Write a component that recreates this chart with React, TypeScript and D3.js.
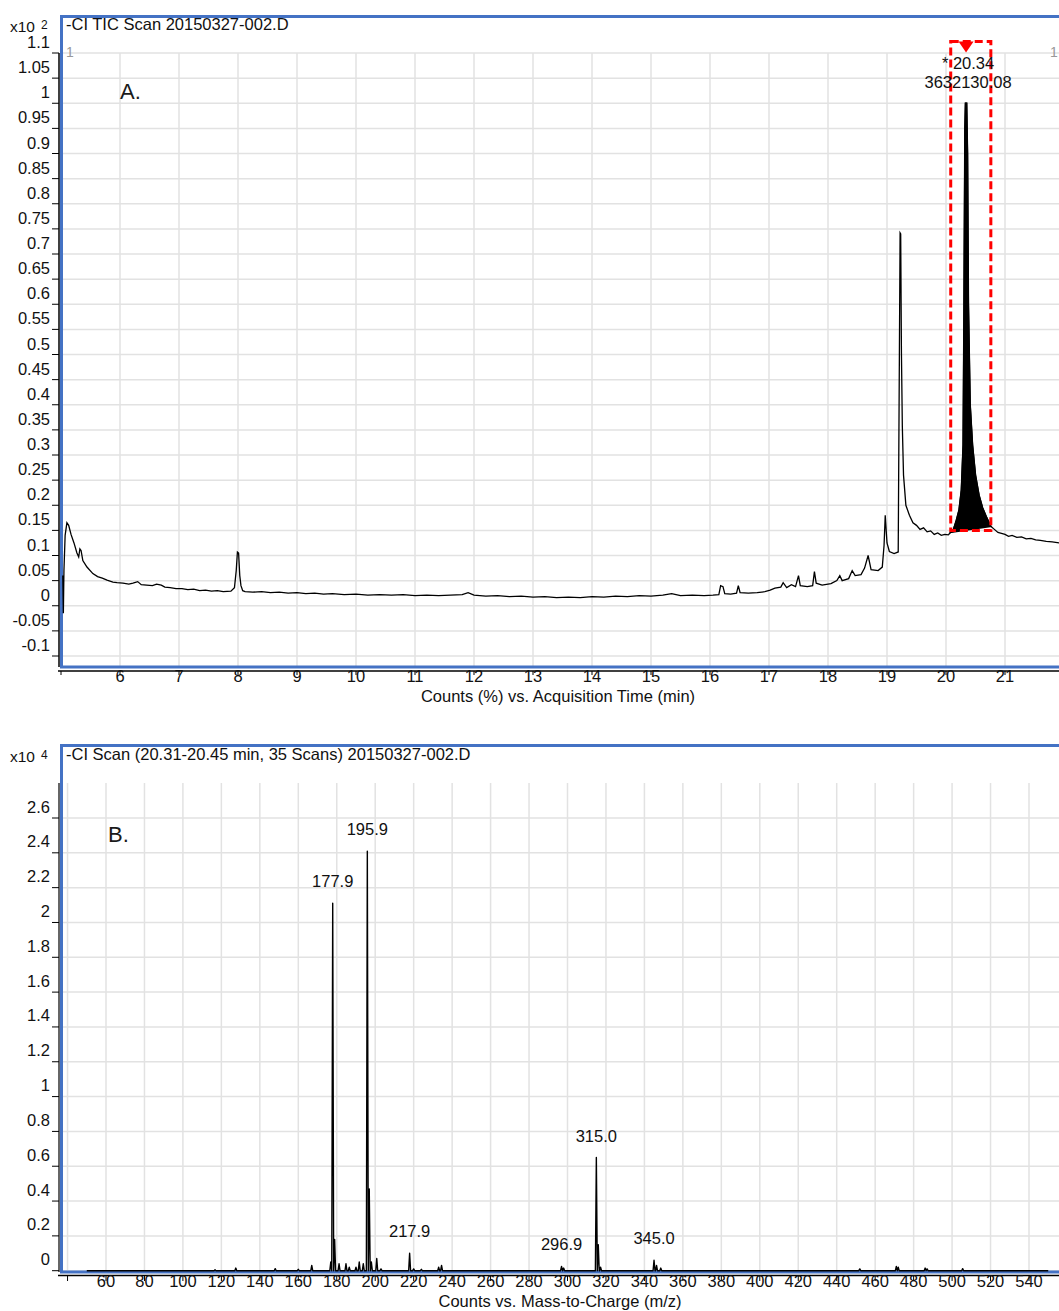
import * as React from 'react'
import * as d3 from 'd3'

// ---- panel A: TIC chromatogram, [time (min), counts (x10^2 %)]
const ticTrace: [number, number][] = [
  [5.03, 0.06], [5.04, -0.015], [5.05, 0.07], [5.07, 0.14], [5.1, 0.165], [5.13, 0.16], [5.17, 0.142],
  [5.22, 0.125], [5.27, 0.105], [5.3, 0.097], [5.32, 0.113], [5.34, 0.11], [5.37, 0.09], [5.44, 0.077],
  [5.54, 0.064], [5.62, 0.058], [5.7, 0.055], [5.78, 0.051], [5.88, 0.047], [5.95, 0.046], [6.05, 0.045],
  [6.15, 0.043], [6.22, 0.045], [6.3, 0.048], [6.36, 0.042], [6.45, 0.041], [6.55, 0.04], [6.62, 0.043],
  [6.7, 0.041], [6.76, 0.037], [6.85, 0.036], [6.95, 0.034], [7.05, 0.034], [7.15, 0.032], [7.25, 0.033],
  [7.35, 0.03], [7.45, 0.031], [7.55, 0.029], [7.65, 0.03], [7.75, 0.028], [7.88, 0.029], [7.94, 0.036],
  [7.97, 0.07], [7.99, 0.107], [8.01, 0.105], [8.03, 0.06], [8.05, 0.04], [8.08, 0.03], [8.12, 0.028], [8.25, 0.027],
  [8.4, 0.028], [8.55, 0.026], [8.7, 0.027], [8.85, 0.025], [9.0, 0.026], [9.15, 0.024], [9.3, 0.025],
  [9.45, 0.023], [9.6, 0.024], [9.8, 0.022], [10.0, 0.023], [10.2, 0.021], [10.4, 0.022], [10.6, 0.021],
  [10.8, 0.022], [11.0, 0.02], [11.2, 0.021], [11.4, 0.02], [11.6, 0.021], [11.8, 0.022], [11.9, 0.026],
  [12.0, 0.021], [12.2, 0.019], [12.4, 0.02], [12.6, 0.018], [12.8, 0.019], [13.0, 0.017], [13.2, 0.018],
  [13.4, 0.016], [13.6, 0.017], [13.8, 0.016], [14.0, 0.018], [14.2, 0.017], [14.4, 0.019], [14.6, 0.018],
  [14.8, 0.02], [15.0, 0.019], [15.2, 0.021], [15.35, 0.024], [15.5, 0.02], [15.7, 0.021], [15.9, 0.02],
  [16.05, 0.021], [16.15, 0.022], [16.18, 0.04], [16.22, 0.038], [16.25, 0.024], [16.35, 0.023], [16.45, 0.025],
  [16.48, 0.04], [16.51, 0.026], [16.65, 0.025], [16.8, 0.026], [16.93, 0.028], [17.02, 0.031], [17.1, 0.035],
  [17.2, 0.037], [17.24, 0.046], [17.3, 0.036], [17.38, 0.042], [17.45, 0.038], [17.5, 0.06], [17.53, 0.04],
  [17.65, 0.038], [17.74, 0.04], [17.77, 0.068], [17.8, 0.045], [17.9, 0.041], [18.05, 0.044], [18.15, 0.05],
  [18.2, 0.06], [18.24, 0.05], [18.35, 0.054], [18.41, 0.07], [18.46, 0.06], [18.56, 0.062], [18.62, 0.075],
  [18.68, 0.1], [18.73, 0.072], [18.85, 0.07], [18.92, 0.077], [18.95, 0.12], [18.97, 0.18], [19.0, 0.125],
  [19.04, 0.108], [19.12, 0.104], [19.19, 0.107], [19.21, 0.5], [19.222, 0.742], [19.232, 0.74], [19.245, 0.5],
  [19.26, 0.356], [19.28, 0.26], [19.32, 0.2], [19.38, 0.18], [19.44, 0.165], [19.5, 0.16], [19.56, 0.152],
  [19.62, 0.155], [19.68, 0.147], [19.74, 0.149], [19.8, 0.142], [19.86, 0.145], [19.92, 0.14], [19.98, 0.142],
  [20.04, 0.141], [20.08, 0.146], [20.12, 0.15], [20.17, 0.168], [20.22, 0.19], [20.26, 0.23], [20.29, 0.32],
  [20.305, 0.6], [20.32, 0.95], [20.33, 1.0], [20.35, 1.0], [20.365, 0.9], [20.38, 0.6], [20.41, 0.4],
  [20.45, 0.32], [20.5, 0.26], [20.56, 0.22], [20.62, 0.195], [20.68, 0.178], [20.72, 0.168], [20.76, 0.158],
  [20.82, 0.152], [20.88, 0.146], [20.94, 0.144], [21.0, 0.142], [21.06, 0.138], [21.12, 0.14], [21.2, 0.136],
  [21.28, 0.137], [21.36, 0.133], [21.44, 0.134], [21.52, 0.131], [21.6, 0.13], [21.7, 0.128], [21.8, 0.127],
  [21.92, 0.125],
]
const peakWindow = [20.08, 20.76]
const peakTime = 20.34
const peakArea = '3632130.08'
const timeTicks = [5, 6, 7, 8, 9, 10, 11, 12, 13, 14, 15, 16, 17, 18, 19, 20, 21]
const countTicksA = [-0.1, -0.05, 0, 0.05, 0.1, 0.15, 0.2, 0.25, 0.3, 0.35, 0.4, 0.45, 0.5, 0.55, 0.6,
  0.65, 0.7, 0.75, 0.8, 0.85, 0.9, 0.95, 1, 1.05, 1.1]

// ---- panel B: mass spectrum, [m/z, counts (x10^4)]
const msPeaks: [number, number][] = [
  [116.7, 0.005], [127.5, 0.015], [148, 0.012], [160, 0.008], [167, 0.03], [176.9, 0.05], [177.9, 2.11],
  [178.9, 0.18], [181.2, 0.04], [184.8, 0.04], [186.5, 0.02], [190, 0.02], [191.7, 0.05], [193.8, 0.04],
  [195.9, 2.41], [196.9, 0.47], [198, 0.05], [200.8, 0.07], [203, 0.01], [217.9, 0.1], [220, 0.01],
  [224, 0.008], [233, 0.02], [234.5, 0.03], [296.9, 0.025], [298, 0.015], [315.0, 0.65], [316.0, 0.15],
  [317.2, 0.02], [345.0, 0.06], [346.3, 0.03], [348.5, 0.015], [452, 0.01], [471, 0.025], [472, 0.02],
  [486, 0.015], [487, 0.01], [505.5, 0.012],
]
const msRange = [50, 550]
const msLabels = [177.9, 195.9, 217.9, 296.9, 315.0, 345.0]
const mzTicks = [40, 60, 80, 100, 120, 140, 160, 180, 200, 220, 240, 260, 280, 300, 320, 340, 360, 380,
  400, 420, 440, 460, 480, 500, 520, 540]
const countTicksB = [0, 0.2, 0.4, 0.6, 0.8, 1, 1.2, 1.4, 1.6, 1.8, 2, 2.2, 2.4, 2.6]

const FONT = '"Liberation Sans", Arial, Helvetica, sans-serif'
const BLUE = '#4472c4'
const GRID = '#e2e2e2'
const INK = '#111'
const FS = 16.5

export default function App() {
  // A scales
  const xA = d3.scaleLinear().domain([5, 21]).range([61, 1005])
  const yA = d3.scaleLinear().domain([-0.1, 1.1]).range([656, 53])
  const ticLine = d3.line<[number, number]>().x(d => xA(d[0])).y(d => yA(d[1]))
  const inWindow = ticTrace.filter(d => d[0] >= peakWindow[0] && d[0] <= peakWindow[1])
  const fillPath = ticLine(inWindow) + 'Z'
  const px = xA(peakTime)

  // B scales
  const xB = d3.scaleLinear().domain([60, 540]).range([106, 1029])
  const yB = d3.scaleLinear().domain([0, 2.6]).range([1270.7, 818])
  const profile: [number, number][] = [[msRange[0], 0]]
  msPeaks.forEach(([mz, v]) => {
    profile.push([mz - 0.5, 0], [mz, v], [mz + 0.5, 0])
  })
  profile.push([msRange[1], 0])
  const msLine = d3.line<[number, number]>().x(d => xB(d[0])).y(d => yB(d[1]))

  const fmt2 = (v: number) => String(+v.toFixed(2))

  return (
    <svg width={1059} height={1311} style={{ position: 'absolute', left: 0, top: 0 }}
      fontFamily={FONT} fill={INK}>
      <rect width={1059} height={1311} fill="#fff" />

      {/* ---------- panel A ---------- */}
      <g>
        {timeTicks.map(t => (
          <line key={'gx' + t} x1={xA(t)} x2={xA(t)} y1={53} y2={667} stroke={GRID} strokeWidth={1.5} />
        ))}
        {countTicksA.map(v => (
          <line key={'gy' + v} x1={61} x2={1059} y1={yA(v)} y2={yA(v)} stroke={GRID} strokeWidth={1.5} />
        ))}
        <path d="M1070,16.5H61.5V667H1070" fill="none" stroke={BLUE} strokeWidth={3} />
        <line x1={59} x2={59} y1={53} y2={667} stroke="#000" strokeWidth={1.5} />
        <line x1={58} x2={1059} y1={671} y2={671} stroke="#000" strokeWidth={1.5} />
        {countTicksA.map(v => (
          <g key={'ty' + v}>
            <line x1={52} x2={59} y1={yA(v)} y2={yA(v)} stroke="#000" strokeWidth={1} />
            <text x={50} y={yA(v) - 5} fontSize={FS} textAnchor="end">{fmt2(v)}</text>
          </g>
        ))}
        {timeTicks.map(t => (
          <g key={'tx' + t}>
            <line x1={xA(t)} x2={xA(t)} y1={671} y2={675} stroke="#000" strokeWidth={1} />
            {t > 5 && <text x={xA(t)} y={682} fontSize={FS} textAnchor="middle">{t}</text>}
          </g>
        ))}
        <text x={10} y={32} fontSize={15.5}>x10</text>
        <text x={41} y={28.5} fontSize={12}>2</text>
        <text x={66} y={29.5} fontSize={FS}>-CI TIC Scan 20150327-002.D</text>
        <text x={66} y={57} fontSize={14} fill="#999">1</text>
        <text x={1050} y={57} fontSize={14} fill="#999">1</text>
        <text x={120} y={99} fontSize={22} fill="#1a1a1a">A.</text>
        <text x={558} y={702} fontSize={FS} textAnchor="middle">Counts (%) vs. Acquisition Time (min)</text>

        <path d={fillPath} fill="#000" stroke="#000" strokeWidth={1.5} />
        <path d={ticLine(ticTrace) || ''} fill="none" stroke="#000" strokeWidth={1.3} />

        <rect x={xA(peakWindow[0])} y={yA(1.123)} width={xA(peakWindow[1]) - xA(peakWindow[0])}
          height={yA(0.15) - yA(1.123)} fill="none" stroke="#ff0000" strokeWidth={3} strokeDasharray="8 4" />
        <path d={`M${px - 7.5},${yA(1.123)}L${px + 7.5},${yA(1.123)}L${px},${yA(1.123) + 11}Z`} fill="#ff0000" />
        <text x={px + 2} y={69} fontSize={FS} textAnchor="middle">* {peakTime.toFixed(2)}</text>
        <text x={px + 2} y={88} fontSize={FS} textAnchor="middle">{peakArea}</text>
      </g>

      {/* ---------- panel B ---------- */}
      <g>
        {mzTicks.map(m => (
          <line key={'bgx' + m} x1={xB(m)} x2={xB(m)} y1={783} y2={1272} stroke={GRID} strokeWidth={1.5} />
        ))}
        {countTicksB.map(v => (
          <line key={'bgy' + v} x1={61} x2={1059} y1={yB(v)} y2={yB(v)} stroke={GRID} strokeWidth={1.5} />
        ))}
        <path d="M1070,745.5H61.5V1272H1070" fill="none" stroke={BLUE} strokeWidth={3} />
        <line x1={59} x2={59} y1={783} y2={1272} stroke="#333" strokeWidth={1.5} />
        <line x1={58} x2={1059} y1={1275.5} y2={1275.5} stroke="#000" strokeWidth={1.5} />
        {countTicksB.map(v => (
          <g key={'bty' + v}>
            <line x1={52} x2={59} y1={yB(v)} y2={yB(v)} stroke="#000" strokeWidth={1} />
            <text x={50} y={yB(v) - 5.5} fontSize={FS} textAnchor="end">{String(+v.toFixed(1))}</text>
          </g>
        ))}
        {mzTicks.map(m => (
          <g key={'btx' + m}>
            <line x1={xB(m)} x2={xB(m)} y1={1275.5} y2={1281} stroke="#000" strokeWidth={1} />
            {m > 40 && <text x={xB(m)} y={1287} fontSize={FS} textAnchor="middle">{m}</text>}
          </g>
        ))}
        <text x={10} y={762} fontSize={15.5}>x10</text>
        <text x={41} y={759} fontSize={12}>4</text>
        <text x={66} y={760} fontSize={FS}>-CI Scan (20.31-20.45 min, 35 Scans) 20150327-002.D</text>
        <text x={108} y={842} fontSize={22} fill="#1a1a1a">B.</text>
        <text x={560} y={1307} fontSize={FS} textAnchor="middle">Counts vs. Mass-to-Charge (m/z)</text>

        <path d={msLine(profile) || ''} fill="none" stroke="#000" strokeWidth={1.4} strokeLinejoin="round" />
        {msLabels.map(m => {
          const pk = msPeaks.find(p => p[0] === m)!
          return (
            <text key={'lab' + m} x={xB(m)} y={yB(pk[1]) - 16} fontSize={FS} textAnchor="middle">
              {m.toFixed(1)}
            </text>
          )
        })}
      </g>
    </svg>
  )
}
